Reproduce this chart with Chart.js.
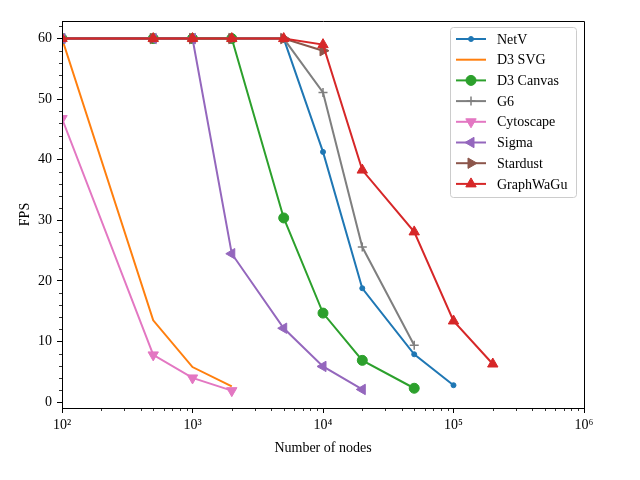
<!DOCTYPE html>
<html><head><meta charset="utf-8">
<script src="https://cdn.jsdelivr.net/npm/chart.js@4.4.1/dist/chart.umd.min.js"></script>
<style>html,body{margin:0;padding:0;background:#fff}#wrap{width:640px;height:480px;position:relative}</style>
</head><body><div id="wrap"><canvas id="c" width="640" height="480"></canvas></div>
<script>
// ---- data ----
const seriesNames = ['NetV','D3 SVG','D3 Canvas','G6','Cytoscape','Sigma','Stardust','GraphWaGu'];
const netvX = [100,500,1000,2000,5000,10000,20000,50000,100000];
const netvY = [60,60,60,60,60,41.3,18.8,7.9,2.8];
const d3svgX = [100,500,1000,2000];
const d3svgY = [60,13.5,5.8,2.6];
const d3canvasX = [100,500,1000,2000,5000,10000,20000,50000];
const d3canvasY = [60,60,60,60,30.4,14.7,6.9,2.3];
const g6X = [100,500,1000,2000,5000,10000,20000,50000];
const g6Y = [60,60,60,60,60,51.1,25.6,9.4];
const cytoscapeX = [100,500,1000,2000];
const cytoscapeY = [46.8,7.8,4.0,1.9];
const sigmaX = [100,500,1000,2000,5000,10000,20000];
const sigmaY = [60,60,60,24.5,12.2,5.9,2.1];
const stardustX = [100,500,1000,2000,5000,10000];
const stardustY = [60,60,60,60,60,58.0];
const graphwaguX = [100,500,1000,2000,5000,10000,20000,50000,100000,200000];
const graphwaguY = [60,60,60,60,60,59.0,38.3,28.1,13.4,6.3];
const xTickValues = [100,1000,10000,100000,1000000];
const xTickLabels = ['10\u00B2','10\u00B3','10\u2074','10\u2075','10\u2076'];
const yTickValues = [0,10,20,30,40,50,60];
const yTickLabels = ['0','10','20','30','40','50','60'];
const xLabel = 'Number of nodes';
const yLabel = 'FPS';

// ---- styles ----
const FONT = 'Liberation Serif, Times New Roman, serif';
const styles = [
  {color:'#1f77b4', pointStyle:'circle', rotation:0, radius:2.5, bw:1},
  {color:'#ff7f0e', pointStyle:false, rotation:0, radius:0, bw:1},
  {color:'#2ca02c', pointStyle:'circle', rotation:0, radius:5, bw:1},
  {color:'#7f7f7f', pointStyle:'cross', rotation:0, radius:4.5, bw:1.5},
  {color:'#e377c2', pointStyle:'triangle', rotation:180, radius:6, bw:1},
  {color:'#9467bd', pointStyle:'triangle', rotation:270, radius:6, bw:1},
  {color:'#8c564b', pointStyle:'triangle', rotation:90, radius:6, bw:1},
  {color:'#d62728', pointStyle:'triangle', rotation:0, radius:6, bw:1}
];
const xs = [netvX,d3svgX,d3canvasX,g6X,cytoscapeX,sigmaX,stardustX,graphwaguX];
const ys = [netvY,d3svgY,d3canvasY,g6Y,cytoscapeY,sigmaY,stardustY,graphwaguY];

const datasets = seriesNames.map((name,i)=>({
  label:name,
  data: xs[i].map((x,j)=>({x:x,y:ys[i][j]})),
  borderColor: styles[i].color,
  backgroundColor: styles[i].color,
  borderWidth: 2,
  pointStyle: styles[i].pointStyle,
  pointRotation: styles[i].rotation,
  pointRadius: styles[i].radius,
  pointBorderWidth: styles[i].bw,
  pointBorderColor: styles[i].color,
  pointBackgroundColor: styles[i].color,
  pointHoverRadius: styles[i].radius,
  tension: 0,
  fill: false,
  clip: 0,
  order: seriesNames.length - i
}));

const framePlugin = {
  id:'frame',
  afterDraw(chart){
    const ctx = chart.ctx, a = chart.chartArea;
    const xS = chart.scales.x, yS = chart.scales.y;
    ctx.save();
    ctx.strokeStyle = '#000';
    ctx.lineWidth = 1;
    ctx.beginPath();
    ctx.rect(Math.round(a.left)+0.5, Math.round(a.top)+0.5, Math.round(a.right-a.left), Math.round(a.bottom-a.top));
    ctx.stroke();
    // minor ticks x
    ctx.lineWidth = 0.8;
    ctx.beginPath();
    for (let d=2; d<6; d++){
      for (let m=2; m<10; m++){
        const px = Math.round(xS.getPixelForValue(m*Math.pow(10,d)))+0.5;
        ctx.moveTo(px, a.bottom); ctx.lineTo(px, a.bottom+3);
      }
    }
    // minor ticks y
    for (let v=2; v<63; v+=2){
      if (v%10===0) continue;
      const py = Math.round(yS.getPixelForValue(v))+0.5;
      ctx.moveTo(a.left, py); ctx.lineTo(a.left-3, py);
    }
    ctx.stroke();
    // legend
    const bw = 126, bh = 170;
    const bx = a.right - 8 - bw, by = a.top + 6;
    ctx.fillStyle = 'rgba(255,255,255,0.8)';
    ctx.strokeStyle = '#cccccc';
    ctx.lineWidth = 1;
    ctx.beginPath();
    if (ctx.roundRect) ctx.roundRect(bx+0.5, by+0.5, bw, bh, 3); else ctx.rect(bx+0.5, by+0.5, bw, bh);
    ctx.fill(); ctx.stroke();
    ctx.font = '14px ' + FONT;
    ctx.textBaseline = 'middle';
    ctx.textAlign = 'left';
    chart.data.datasets.forEach((ds,i)=>{
      const y = by + 12 + i*20.7;
      ctx.strokeStyle = ds.borderColor;
      ctx.lineWidth = 2;
      ctx.beginPath(); ctx.moveTo(bx+6, y); ctx.lineTo(bx+36, y); ctx.stroke();
      if (ds.pointStyle){
        ctx.fillStyle = ds.backgroundColor;
        ctx.strokeStyle = ds.borderColor;
        ctx.lineWidth = ds.pointBorderWidth;
        Chart.helpers.drawPoint(ctx, {pointStyle: ds.pointStyle, rotation: ds.pointRotation, radius: ds.pointRadius, borderWidth: ds.pointBorderWidth}, bx+21, y);
      }
      ctx.fillStyle = '#000';
      ctx.fillText(ds.label, bx+47, y+1);
    });
    ctx.restore();
  }
};

new Chart(document.getElementById('c'), {
  type:'line',
  data:{datasets},
  options:{
    responsive:false,
    animation:false,
    devicePixelRatio:1,
    layout:{padding:{top:21, right:56, left:0, bottom:0}},
    plugins:{legend:{display:false}, tooltip:{enabled:false}},
    scales:{
      x:{
        type:'logarithmic', min:100, max:1000000, position:'bottom',
        afterBuildTicks:(s)=>{ s.ticks = xTickValues.map(v=>({value:v, major:true})); },
        afterFit:(s)=>{ s.height = 72; },
        grid:{drawOnChartArea:false, drawTicks:true, tickLength:5, tickColor:'#000', tickWidth:1},
        border:{display:true, color:'#000', width:1},
        ticks:{autoSkip:false, maxRotation:0, minRotation:0, padding:4, color:'#000', font:{family:FONT, size:14},
          callback:(v,i)=>xTickLabels[i]},
        title:{display:true, text:xLabel, color:'#000', font:{family:FONT, size:14}, padding:{top:0,bottom:23}}
      },
      y:{
        type:'linear', min:-0.96, max:62.9, position:'left',
        afterBuildTicks:(s)=>{ s.ticks = yTickValues.map(v=>({value:v})); },
        afterFit:(s)=>{ s.width = 62; },
        grid:{drawOnChartArea:false, drawTicks:true, tickLength:5, tickColor:'#000', tickWidth:1},
        border:{display:true, color:'#000', width:1},
        ticks:{autoSkip:false, padding:5, color:'#000', font:{family:FONT, size:14},
          callback:(v,i)=>yTickLabels[i]},
        title:{display:true, text:yLabel, color:'#000', font:{family:FONT, size:14}, padding:{top:17,bottom:0}}
      }
    }
  },
  plugins:[framePlugin]
});
</script></body></html>
